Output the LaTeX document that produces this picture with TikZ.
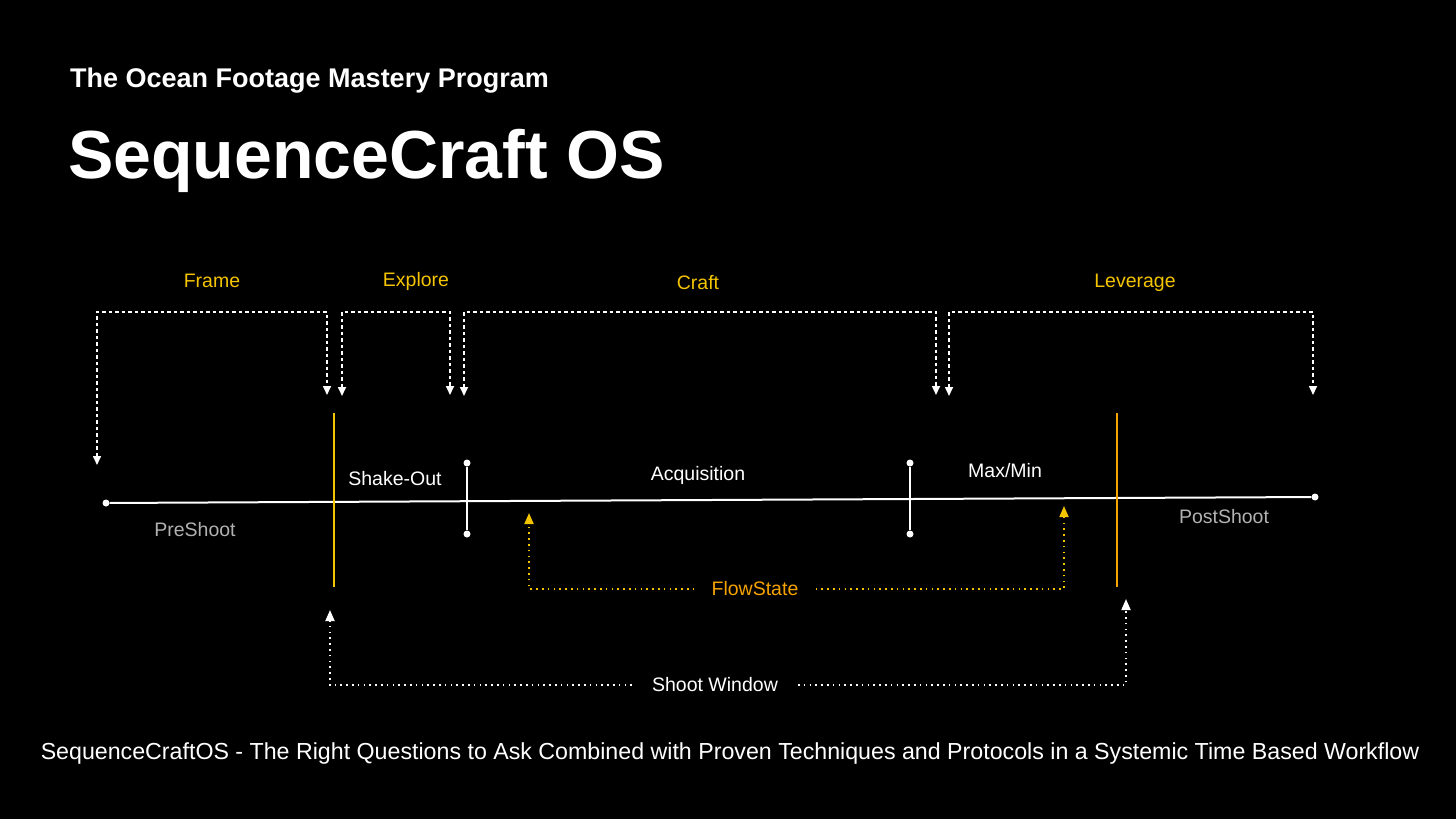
\documentclass[tikz,border=0pt]{standalone}
\usepackage{fontspec}
\setmainfont{Liberation Sans}
\usetikzlibrary{arrows.meta,positioning,calc}
\definecolor{gold}{HTML}{F5C400}
\definecolor{amber}{HTML}{F5A300}
\definecolor{ashgray}{HTML}{B2B2B2}

\begin{document}
\begin{tikzpicture}[x=1pt,y=-1pt,
    phase/.style={text=gold, inner sep=0pt, font=\fontsize{19.5}{22}\selectfont},
    stage/.style={text=white, inner sep=0pt, font=\fontsize{19.5}{22}\selectfont},
    outer/.style={text=ashgray, inner sep=0pt, font=\fontsize{19.5}{22}\selectfont},
    bracket/.style={draw=white, line width=1.6pt, dash pattern=on 3.5pt off 3pt, {Triangle[width=8pt,length=9pt]}-{Triangle[width=8pt,length=9pt]}},
    flowline/.style={draw=gold, line width=1.8pt, dash pattern=on 1.6pt off 4.2pt, -{Triangle[width=9pt,length=11pt]}},
    windowline/.style={draw=white, line width=1.8pt, dash pattern=on 1.6pt off 4.2pt, -{Triangle[width=9pt,length=11pt]}},
    dot/.style={circle, fill=white, inner sep=0pt, minimum size=7pt}]

    % Background
    \fill[black] (0,0) rectangle (1456,819);

    % Titles
    \node[anchor=base west, inner sep=0pt, text=white, font=\fontsize{27}{30}\selectfont\bfseries] (program) at (70,87) {The Ocean Footage Mastery Program};
    \node[anchor=base west, inner sep=0pt, text=white, font=\fontsize{68}{72}\selectfont\bfseries] (title) at (68,178) {SequenceCraft OS};

    % Timeline
    \node[dot] (start) at (106,503) {};
    \node[dot] (finish) at (1315,497) {};
    \draw[white, line width=2pt] (start) -- (finish);

    % Shoot window bars
    \coordinate (shootTop) at (334,413);
    \coordinate (shootBot) at (334,587);
    \coordinate (wrapTop) at (1117,413);
    \coordinate (wrapBot) at (1117,587);
    \draw[gold, line width=2pt] (shootTop) -- (shootBot);
    \draw[amber, line width=2pt] (wrapTop) -- (wrapBot);

    % Stage ticks
    \node[dot] (acqTop) at (467,463) {};
    \node[dot] (acqBot) at (467,534) {};
    \node[dot] (maxTop) at (910,463) {};
    \node[dot] (maxBot) at (910,534) {};
    \draw[white, line width=2pt] (acqTop) -- (acqBot);
    \draw[white, line width=2pt] (maxTop) -- (maxBot);

    % Stage labels
    \node[stage] (shakeout) at (395,479) {Shake-Out};
    \node[stage] (acquisition) at (698,475) {Acquisition};
    \node[stage] (maxmin) at (1005,471) {Max/Min};
    \node[outer] (preshoot) at (195,530) {PreShoot};
    \node[outer] (postshoot) at (1224,517) {PostShoot};

    % Phase labels
    \node[phase] (frame) at (212,281) {Frame};
    \node[phase] (explore) at (416,281) {Explore};
    \node[phase] (craft) at (698,283) {Craft};
    \node[phase] (leverage) at (1135,283) {Leverage};

    % Phase brackets
    \coordinate (rail) at (0,312);
    \coordinate (frameA) at (97,465);
    \coordinate (frameB) at (327,395);
    \coordinate (exploreA) at (342,396);
    \coordinate (exploreB) at (450,395);
    \coordinate (craftA) at (464,396);
    \coordinate (craftB) at (936,395);
    \coordinate (leverageA) at (949,396);
    \coordinate (leverageB) at (1313,395);
    \draw[bracket] (frameA) -- (frameA |- rail) -- (frameB |- rail) -- (frameB);
    \draw[bracket] (exploreA) -- (exploreA |- rail) -- (exploreB |- rail) -- (exploreB);
    \draw[bracket] (craftA) -- (craftA |- rail) -- (craftB |- rail) -- (craftB);
    \draw[bracket] (leverageA) -- (leverageA |- rail) -- (leverageB |- rail) -- (leverageB);

    % FlowState
    \node[text=amber, inner xsep=17pt, inner ysep=0pt, font=\fontsize{19.5}{22}\selectfont] (flow) at (755,589) {FlowState};
    \coordinate (flowL) at (529,513);
    \coordinate (flowR) at (1064,506);
    \draw[flowline] (flow.west) -| (flowL);
    \draw[flowline] (flow.east) -| (flowR);

    % Shoot Window
    \node[text=white, inner xsep=20pt, inner ysep=0pt, font=\fontsize{19.5}{22}\selectfont] (window) at (715,685) {Shoot Window};
    \coordinate (windowL) at (330,610);
    \coordinate (windowR) at (1126,599);
    \draw[windowline] (window.west) -| (windowL);
    \draw[windowline] (window.east) -| (windowR);

    % Caption
    \node[text=white, inner sep=0pt, font=\fontsize{23.2}{26}\selectfont] (caption) at (730,753) {SequenceCraftOS - The Right Questions to Ask Combined with Proven Techniques and Protocols in a Systemic Time Based Workflow};
\end{tikzpicture}
\end{document}
